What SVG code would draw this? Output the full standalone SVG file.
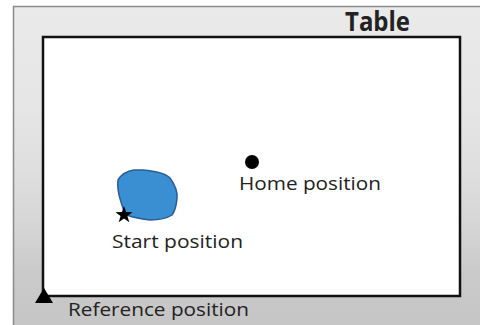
<svg xmlns="http://www.w3.org/2000/svg" width="480" height="325" viewBox="0 0 480 325">
<defs>
<linearGradient id="bg" x1="0" y1="0" x2="0" y2="1">
<stop offset="0" stop-color="#eaeaea"/>
<stop offset="0.3" stop-color="#e6e6e6"/>
<stop offset="0.5" stop-color="#dfdfdf"/>
<stop offset="0.68" stop-color="#d5d5d5"/>
<stop offset="0.82" stop-color="#cacaca"/>
<stop offset="1" stop-color="#c5c5c5"/>
</linearGradient>
<style>
.lbl{font-family:"Open Sans","Liberation Sans",sans-serif;fill:#222;}
</style>
</defs>
<rect x="0" y="0" width="480" height="325" fill="#ffffff"/>
<rect id="frame" x="13.5" y="6.5" width="470" height="325" fill="url(#bg)" stroke="#8a8a8a" stroke-width="1.5"/>
<g id="table">
<rect x="43" y="37" width="417" height="259" fill="#ffffff" stroke="#111" stroke-width="2.5"/>
<text class="lbl" x="345" y="31" font-size="26" font-weight="bold" fill="#111" textLength="65" lengthAdjust="spacingAndGlyphs">Table</text>
</g>
<g id="reference">
<polygon points="44,288 35,303 53,303" fill="#000"/>
<text class="lbl" x="68" y="316" font-size="19" textLength="181" lengthAdjust="spacingAndGlyphs">Reference position</text>
</g>
<g id="object">
<path d="M118,180 C121,175 127,171 134,170 L143,170 C155,171 165,173 170,178 C175,185 178,192 177,199 C176,205 176,210 172,215 C166,219 158,220 150,220 C142,219 134,218 127,215 C124,211 122,207 121,202 C119,196 117,188 118,180 Z" fill="#3a8fd2" stroke="#2a5e96" stroke-width="1.5"/>
</g>
<g id="start">
<polygon points="124,206 126.12,212.09 132.56,212.22 127.42,216.11 129.29,222.28 124,218.6 118.71,222.28 120.58,216.11 115.44,212.22 121.88,212.09" fill="#000"/>
<text class="lbl" x="112" y="248" font-size="19" textLength="131" lengthAdjust="spacingAndGlyphs">Start position</text>
</g>
<g id="home">
<circle cx="252" cy="162" r="7" fill="#000"/>
<text class="lbl" x="239" y="190" font-size="19" textLength="142" lengthAdjust="spacingAndGlyphs">Home position</text>
</g>
<g id="connectors"></g>
</svg>
